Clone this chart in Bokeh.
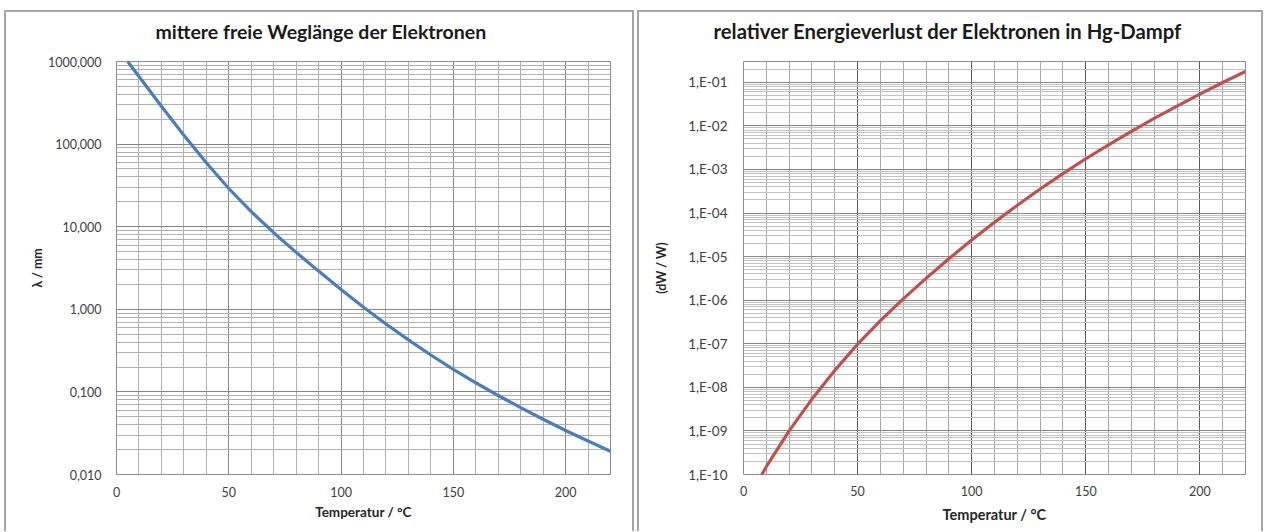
import numpy as np
from bokeh.plotting import figure
from bokeh.layouts import row
from bokeh.models import FixedTicker, CustomJSTickFormatter, Range1d, Title
from bokeh.embed import file_html
from bokeh.resources import INLINE

# ---- data ----
temp_lambda = [5, 10, 20, 30, 40, 50, 60, 70, 80, 90, 100, 110, 120, 130, 140,
               150, 160, 170, 180, 190, 200, 210, 220]
lambda_mm = [1000, 657, 286.8, 128.1, 59.5, 29.0, 15.22, 8.46, 4.89, 2.90, 1.740,
             1.060, 0.665, 0.426, 0.2796, 0.1877, 0.1290, 0.0904, 0.0645, 0.0466,
             0.0341, 0.0254, 0.01907]

temp_loss = [8, 10, 20, 30, 40, 50, 60, 70, 80, 90, 100, 110, 120, 130, 140,
             150, 160, 170, 180, 190, 200, 210, 220]
rel_loss = [1.0e-10, 1.51e-10, 1.0e-9, 5.37e-9, 2.45e-8, 9.77e-8, 3.39e-7, 1.07e-6,
            3.16e-6, 8.91e-6, 2.40e-5, 6.17e-5, 1.51e-4, 3.55e-4, 8.04e-4, 1.76e-3,
            3.67e-3, 7.50e-3, 1.48e-2, 2.85e-2, 5.37e-2, 9.89e-2, 1.78e-1]

x_major_ticks = [0, 50, 100, 150, 200]
title_left = "mittere freie Weglänge der Elektronen"
title_right = "relativer Energieverlust der Elektronen in Hg-Dampf"
xlabel = "Temperatur / °C"
ylabel_left = "λ / mm"
ylabel_right = "(dW / W)"

FONT = "Lato"
X_MAX = 220
x_minor = [t for t in range(10, X_MAX + 1, 10) if t % 50 != 0]


def decade_minors(lo, hi):
    out = []
    for n in range(lo, hi + 1):
        for k in range(2, 10):
            out.append(k * 10.0 ** n)
    return out


def set_title(p, size, offset):
    # an empty spacer title sits between the frame and the real title
    p.add_layout(Title(text=" ", text_font_size="1px", standoff=16), "above")
    p.title.text_font = FONT
    p.title.text_font_size = size
    p.title.text_font_style = "bold"
    p.title.text_color = "#1a1a1a"
    p.title.align = "left"
    p.title.offset = offset
    p.title.standoff = 0


def style(p, tick_size, xlab_size, ylab_size, x_tick_standoff, x_lab_standoff,
          y_tick_standoff, y_lab_standoff):
    p.outline_line_color = "#8c8c8c"
    p.outline_line_width = 1
    for ax in (p.xaxis[0], p.yaxis[0]):
        ax.axis_line_color = None
        ax.major_tick_line_color = None
        ax.minor_tick_line_color = None
        ax.major_label_text_font = FONT
        ax.major_label_text_color = "#404040"
        ax.axis_label_text_font = FONT
        ax.axis_label_text_font_style = "bold"
        ax.axis_label_text_color = "#262626"
    p.xaxis[0].major_label_text_font_size = "12.5px"
    p.yaxis[0].major_label_text_font_size = tick_size
    p.xaxis[0].axis_label_text_font_size = xlab_size
    p.yaxis[0].axis_label_text_font_size = ylab_size
    p.xaxis[0].major_label_standoff = x_tick_standoff
    p.xaxis[0].axis_label_standoff = x_lab_standoff
    p.yaxis[0].major_label_standoff = y_tick_standoff
    p.yaxis[0].axis_label_standoff = y_lab_standoff
    p.background_fill_color = "white"
    p.border_fill_color = "white"


border_css = "2px solid #a6a6a6"

# ---- left chart ----
p1 = figure(width=630, height=521, x_range=Range1d(0, X_MAX), y_range=Range1d(0.01, 1000),
            y_axis_type="log", output_backend="svg", toolbar_location=None,
            min_border_left=110, min_border_right=26, min_border_top=49, min_border_bottom=59,
            title=title_left, x_axis_label=xlabel, y_axis_label=ylabel_left,
            styles={"margin-left": "4px", "margin-top": "10px",
                    "border-top": border_css, "border-left": border_css, "border-right": border_css})
xt1 = FixedTicker(ticks=x_major_ticks, minor_ticks=x_minor)
yt1 = FixedTicker(ticks=[10.0 ** n for n in range(-2, 4)], minor_ticks=decade_minors(-2, 2))
p1.xaxis.ticker = xt1
p1.xgrid.ticker = xt1
p1.yaxis.ticker = yt1
p1.ygrid.ticker = yt1
p1.yaxis.formatter = CustomJSTickFormatter(code="return tick.toFixed(3).replace('.', ',');")
p1.xgrid.grid_line_color = "#8a8a8a"
p1.xgrid.minor_grid_line_color = "#b0b0b0"
p1.ygrid.grid_line_color = "#858585"
p1.ygrid.minor_grid_line_color = "#b0b0b0"
p1.line(temp_lambda, lambda_mm, line_color="#4a7ebb", line_width=3.2)
style(p1, "12.5px", "13.5px", "12.5px", 6, 4, 9, 0)
set_title(p1, "19.5px", 39)

# ---- right chart ----
p2 = figure(width=626, height=521, x_range=Range1d(0, X_MAX), y_range=Range1d(1e-10, 0.3),
            y_axis_type="log", output_backend="svg", toolbar_location=None,
            min_border_left=104, min_border_right=20, min_border_top=49, min_border_bottom=57,
            title=title_right, x_axis_label=xlabel, y_axis_label=ylabel_right,
            styles={"margin-left": "3px", "margin-top": "10px",
                    "border-top": border_css, "border-left": border_css, "border-right": border_css})
xt2 = FixedTicker(ticks=x_major_ticks, minor_ticks=x_minor)
yt2 = FixedTicker(ticks=[10.0 ** n for n in range(-10, 0)],
                  minor_ticks=decade_minors(-10, -2) + [0.2])
p2.xaxis.ticker = xt2
p2.xgrid.ticker = xt2
p2.yaxis.ticker = yt2
p2.ygrid.ticker = yt2
p2.yaxis.formatter = CustomJSTickFormatter(code="""
const e = Math.round(Math.log10(tick));
const a = Math.abs(e);
return "1,E" + (e < 0 ? "-" : "+") + (a < 10 ? "0" : "") + a;
""")
p2.xgrid.grid_line_color = "#5a5a5a"
p2.xgrid.minor_grid_line_color = "#a8a8a8"
p2.ygrid.grid_line_color = "#858585"
p2.ygrid.minor_grid_line_color = "#c2c2c2"
p2.line(temp_loss, rel_loss, line_color="#c0504d", line_width=3.2)
style(p2, "13.5px", "14.5px", "12.5px", 5, 7, 10, 16)
set_title(p2, "20.3px", -30)

layout = row(p1, p2)
open("out.html", "w").write(file_html(layout, INLINE))
